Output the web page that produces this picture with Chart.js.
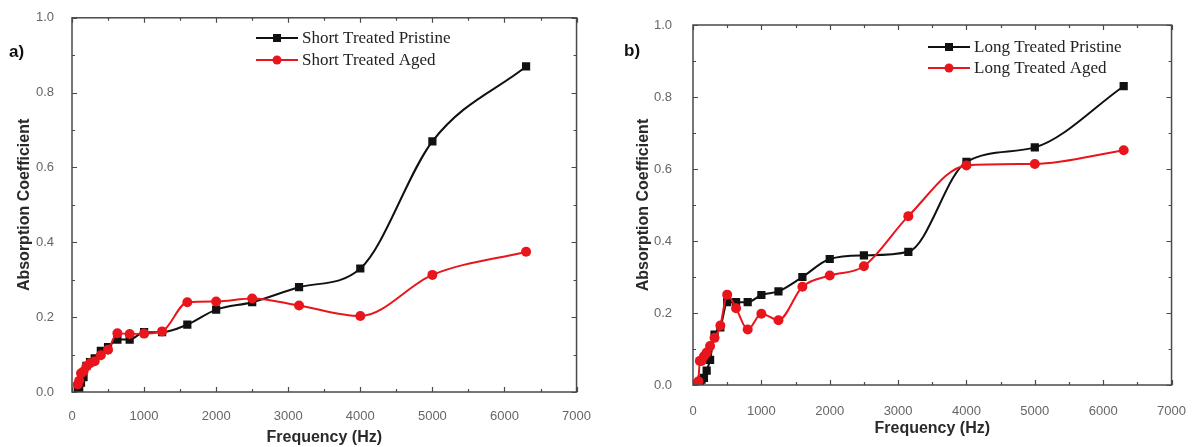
<!DOCTYPE html>
<html><head><meta charset="utf-8">
<script src="https://cdn.jsdelivr.net/npm/chart.js@4/dist/chart.umd.min.js"></script>
<style>
html,body{margin:0;padding:0;background:#fff;width:1197px;height:447px;overflow:hidden;}
.panel{position:absolute;top:0;}
.tag{position:absolute;font:bold 17px "Liberation Sans",Arial,sans-serif;color:#111;line-height:18px;}
</style></head><body>
<div class="panel" style="left:0;width:600px;height:447px"><canvas id="ca" width="600" height="447"></canvas></div>
<div class="panel" style="left:600px;width:597px;height:447px"><canvas id="cb" width="597" height="447"></canvas></div>
<div class="tag" style="left:9px;top:43px">a)</div>
<div class="tag" style="left:624px;top:42px">b)</div>
<script>
// ---- data ----
const frequencies = [80, 100, 125, 160, 200, 250, 315, 400, 500, 630, 800, 1000, 1250, 1600, 2000, 2500, 3150, 4000, 5000, 6300];
const shortTreatedPristine = [0.005, 0.01, 0.025, 0.04, 0.07, 0.08, 0.09, 0.11, 0.12, 0.14, 0.14, 0.16, 0.16, 0.18, 0.22, 0.24, 0.28, 0.33, 0.67, 0.87];
const shortTreatedAged     = [0.02, 0.03, 0.05, 0.055, 0.068, 0.077, 0.082, 0.098, 0.113, 0.157, 0.155, 0.156, 0.162, 0.24, 0.242, 0.25, 0.231, 0.203, 0.313, 0.375];
const longTreatedPristine  = [0.005, 0.01, 0.015, 0.02, 0.04, 0.07, 0.14, 0.16, 0.23, 0.23, 0.23, 0.25, 0.26, 0.30, 0.35, 0.36, 0.37, 0.62, 0.66, 0.83];
const longTreatedAged      = [0.01, 0.067, 0.067, 0.08, 0.09, 0.108, 0.131, 0.165, 0.251, 0.213, 0.154, 0.198, 0.18, 0.273, 0.304, 0.33, 0.469, 0.61, 0.614, 0.652];
const legendA = ['Short Treated Pristine', 'Short Treated Aged'];
const legendB = ['Long Treated Pristine', 'Long Treated Aged'];
const xTitle = 'Frequency (Hz)';
const yTitle = 'Absorption Coefficient';

const BLACK = '#111111', RED = '#e8161c';

function pts(vals){ return frequencies.map((f,i)=>({x:f, y:vals[i]})); }

const framePlugin = {
  id: 'frameTicks',
  afterDatasetsDraw(chart, args, o) {
    const {ctx, chartArea: a, scales: {x, y}} = chart;
    ctx.save();
    ctx.strokeStyle = '#4a4a4a';
    ctx.lineWidth = 1.5;
    ctx.strokeRect(a.left, a.top, a.right - a.left, a.bottom - a.top);
    ctx.lineWidth = 1.2;
    ctx.beginPath();
    x.ticks.forEach(t => {
      const px = Math.round(x.getPixelForValue(t.value)) + 0.5;
      const len = (t.value % 1000 === 0) ? 5 : 3;
      ctx.moveTo(px, a.bottom); ctx.lineTo(px, a.bottom - len);
      ctx.moveTo(px, a.top); ctx.lineTo(px, a.top + len);
    });
    y.ticks.forEach(t => {
      const py = Math.round(y.getPixelForValue(t.value)) + 0.5;
      const len = (Math.round(t.value * 10) % 2 === 0) ? 5 : 3;
      ctx.moveTo(a.left, py); ctx.lineTo(a.left + len, py);
      ctx.moveTo(a.right, py); ctx.lineTo(a.right - len, py);
    });
    ctx.stroke();
    // legend
    const L = o.legend;
    chart.data.datasets.slice().sort((p,q)=>p.legendIndex-q.legendIndex).forEach((ds, i) => {
      const yy = L.y + i * L.gap;
      ctx.strokeStyle = ds.borderColor;
      ctx.lineWidth = 2;
      ctx.beginPath(); ctx.moveTo(L.x, yy); ctx.lineTo(L.x + L.len, yy); ctx.stroke();
      ctx.fillStyle = ds.borderColor;
      const cx = L.x + L.len / 2;
      if (ds.pointStyle === 'rect') { ctx.fillRect(cx - 4, yy - 4, 8, 8); }
      else { ctx.beginPath(); ctx.arc(cx, yy, 4.5, 0, Math.PI * 2); ctx.fill(); }
      ctx.fillStyle = '#222';
      ctx.font = '17px "Liberation Serif", "Times New Roman", serif';
      ctx.textBaseline = 'middle';
      ctx.textAlign = 'left';
      ctx.fillText(ds.label, L.x + L.len + 4, yy + 1);
    });
    ctx.restore();
  }
};

function makeChart(id, names, blackVals, redVals, g) {
  return new Chart(document.getElementById(id), {
    type: 'scatter',
    data: {
      datasets: [
        { label: names[1], data: pts(redVals), showLine: true, borderColor: RED, backgroundColor: RED,
          borderWidth: 2, pointStyle: 'circle', pointRadius: 5, pointBorderWidth: 0,
          cubicInterpolationMode: 'monotone', order: 0, legendIndex: 1 },
        { label: names[0], data: pts(blackVals), showLine: true, borderColor: BLACK, backgroundColor: BLACK,
          borderWidth: 2, pointStyle: 'rect', pointRadius: 5.8, pointBorderWidth: 0,
          cubicInterpolationMode: 'monotone', order: 1, legendIndex: 0 }
      ]
    },
    options: {
      responsive: false, animation: false, devicePixelRatio: 1,
      layout: { padding: { left: 0, right: g.padRight, top: g.padTop, bottom: 0 } },
      plugins: { legend: { display: false }, tooltip: { enabled: false }, frameTicks: { legend: g.legend } },
      scales: {
        x: {
          type: 'linear', min: 0, max: 7000,
          grid: { display: false }, border: { display: false },
          afterFit: s => { s.height = g.xHeight; },
          ticks: { stepSize: 500, autoSkip: false, maxRotation: 0, padding: g.xTickPad, color: '#666',
                   font: { family: '"Liberation Sans", Arial, sans-serif', size: 13 },
                   callback: v => (v % 1000 === 0 ? String(v) : '') },
          title: { display: true, text: xTitle, color: '#2a2a2a', padding: { top: 0, bottom: g.xTitlePad },
                   font: { family: '"Liberation Sans", Arial, sans-serif', size: 16, weight: 'bold' } }
        },
        y: {
          type: 'linear', min: 0, max: 1,
          grid: { display: false }, border: { display: false },
          afterFit: s => { s.width = g.yWidth; },
          ticks: { stepSize: 0.1, autoSkip: false, padding: g.yTickPad, color: '#666',
                   font: { family: '"Liberation Sans", Arial, sans-serif', size: 13 },
                   callback: v => (Math.round(v * 10) % 2 === 0 ? v.toFixed(1) : '') },
          title: { display: true, text: yTitle, color: '#2a2a2a', padding: { top: g.yTitlePad, bottom: 0 },
                   font: { family: '"Liberation Sans", Arial, sans-serif', size: 16, weight: 'bold' } }
        }
      }
    },
    plugins: [framePlugin]
  });
}

makeChart('ca', legendA, shortTreatedPristine, shortTreatedAged,
  { padRight: 22, padTop: 16, xHeight: 55, yWidth: 72, xTickPad: 9, yTickPad: 10, xTitlePad: 0, yTitlePad: 15,
    legend: { x: 256, y: 38, gap: 22, len: 42 } });
makeChart('cb', legendB, longTreatedPristine, longTreatedAged,
  { padRight: 18, padTop: 25, xHeight: 62, yWidth: 93, xTickPad: 11, yTickPad: 13, xTitlePad: 9, yTitlePad: 34,
    legend: { x: 328, y: 47, gap: 21, len: 42 } });
</script>
</body></html>
